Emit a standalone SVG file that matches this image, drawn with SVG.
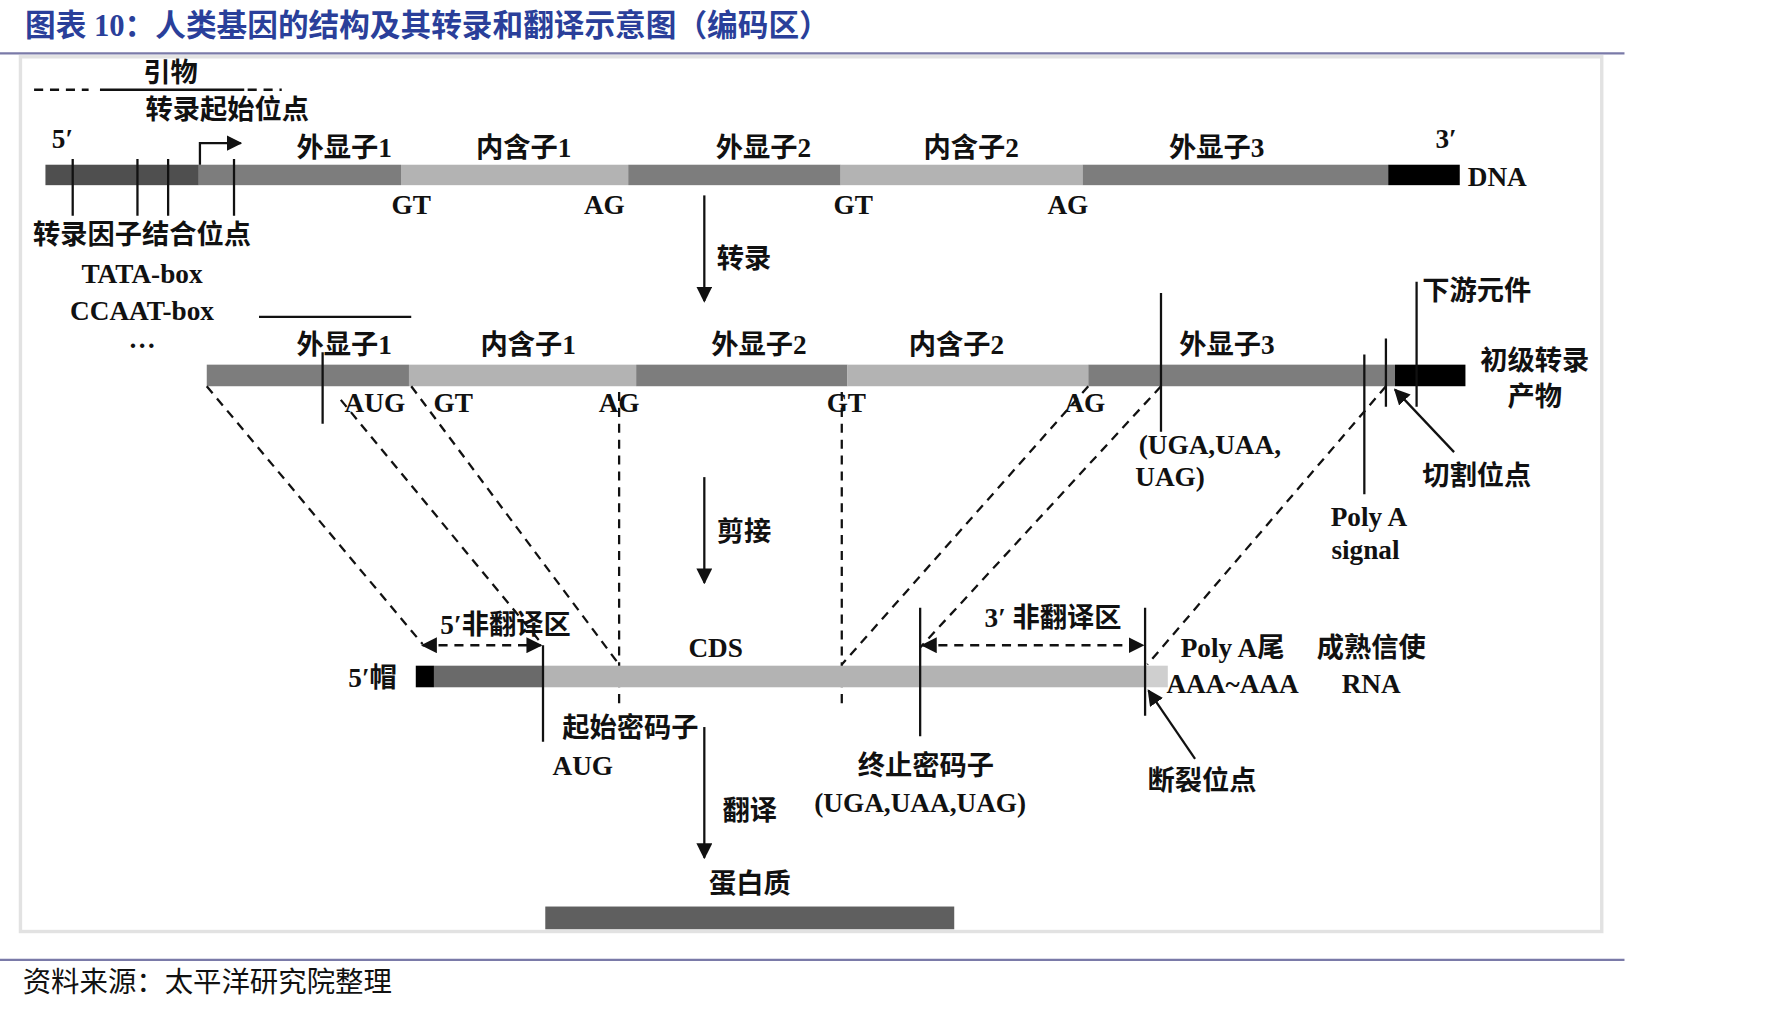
<svg xmlns="http://www.w3.org/2000/svg" width="1779" height="1013" viewBox="0 0 1779 1013">
<defs>
<style>
text{font-family:"Liberation Serif","Noto Sans CJK SC",serif;font-size:24px;fill:#111;text-anchor:middle;font-weight:bold}
.t{fill:#2a3f9a;font-size:27px;text-anchor:start}
.s{font-weight:normal;text-anchor:start;font-size:25px}
.l{stroke:#111;stroke-width:2;fill:none}
.d{stroke:#111;stroke-width:2;fill:none;stroke-dasharray:8 6}
.ex{fill:#7d7d7d}.in{fill:#b3b3b3}.dk{fill:#4f4f4f}.bk{fill:#000}
</style>
<marker id="a" viewBox="0 0 10 10" refX="9" refY="5" markerWidth="7" markerHeight="7" orient="auto-start-reverse"><path d="M0,0L10,5L0,10z" fill="#111"/></marker>
</defs>
<rect width="1779" height="1013" fill="#fff"/>
<g transform="scale(1.136)">
<text class="t" x="22" y="32">图表 10：人类基因的结构及其转录和翻译示意图（编码区）</text>
<line x1="0" y1="47" x2="1430" y2="47" stroke="#7a7aa8" stroke-width="2"/>
<rect x="18" y="50" width="1392" height="770" fill="none" stroke="#e2e2e2" stroke-width="3"/>
<line x1="0" y1="845" x2="1430" y2="845" stroke="#7a7aa8" stroke-width="2"/>
<text class="s" x="20" y="873">资料来源：太平洋研究院整理</text>

<g id="dna">
<rect class="dk" x="40" y="145" width="135" height="18"/>
<rect class="ex" x="175" y="145" width="178" height="18"/>
<rect class="in" x="353" y="145" width="200" height="18"/>
<rect class="ex" x="553" y="145" width="187" height="18"/>
<rect class="in" x="740" y="145" width="213" height="18"/>
<rect class="ex" x="953" y="145" width="269" height="18"/>
<rect class="bk" x="1222" y="145" width="63" height="18"/>
<text x="303" y="138">外显子1</text><text x="461" y="138">内含子1</text><text x="672" y="138">外显子2</text><text x="855" y="138">内含子2</text><text x="1071" y="138">外显子3</text>
<text x="55" y="130">5′</text><text x="1273" y="130">3′</text><text x="1318" y="164">DNA</text>
<text x="362" y="188">GT</text><text x="532" y="188">AG</text><text x="751" y="188">GT</text><text x="940" y="188">AG</text>
<path class="l" d="M64,140V190M121,140V190M148,140V190M206,140V190"/>
<path class="l" d="M176,145V126H212" marker-end="url(#a)"/>
<path class="d" d="M30,79H78M218,79H248"/><path class="l" d="M88,79H215"/>
<text x="150" y="72">引物</text><text x="200" y="105">转录起始位点</text>
<text x="125" y="215">转录因子结合位点</text><text x="125" y="249">TATA-box</text><text x="125" y="282">CCAAT-box</text><text x="125" y="306">…</text>
</g>

<g id="pre">
<rect class="ex" x="182" y="321" width="178" height="19"/>
<rect class="in" x="360" y="321" width="200" height="19"/>
<rect class="ex" x="560" y="321" width="186" height="19"/>
<rect class="in" x="746" y="321" width="212" height="19"/>
<rect class="ex" x="958" y="321" width="270" height="19"/>
<rect class="bk" x="1228" y="321" width="62" height="19"/>
<text x="303" y="312">外显子1</text><text x="465" y="312">内含子1</text><text x="668" y="312">外显子2</text><text x="842" y="312">内含子2</text><text x="1080" y="312">外显子3</text>
<path class="l" d="M228,279H362M284,310V373M1022,258V380M1201,312V435M1220,298V358M1247,248V358"/>
<text x="330" y="363">AUG</text><text x="399" y="363">GT</text><text x="545" y="363">AG</text><text x="745" y="363">GT</text><text x="955" y="363">AG</text>
<text x="1065" y="400">(UGA,UAA,</text><text x="1030" y="428">UAG)</text>
<text x="1205" y="463">Poly A</text><text x="1202" y="492">signal</text>
<text x="1300" y="264">下游元件</text><text x="1351" y="326">初级转录</text><text x="1351" y="357">产物</text>
<text x="1300" y="427">切割位点</text>
<path class="l" d="M1280,398L1228,343" marker-end="url(#a)"/>
</g>

<g id="connectors">
<path class="d" d="M182,340L372,567M300,352L478,568M362,340L545,585M545,345V620M741,345V620M958,340L741,585M1022,340L810,570M1220,340L1010,585"/>
<path class="l" d="M620,172V265" marker-end="url(#a)"/><text x="655" y="236">转录</text>
<path class="l" d="M620,420V513" marker-end="url(#a)"/><text x="655" y="476">剪接</text>
<path class="l" d="M620,640V755" marker-end="url(#a)"/><text x="660" y="722">翻译</text>
</g>

<g id="mrna">
<rect class="bk" x="366" y="586" width="16" height="19"/>
<rect x="382" y="586" width="96" height="19" fill="#6a6a6a"/>
<rect class="in" x="478" y="586" width="530" height="19"/>
<rect x="1008" y="586" width="20" height="19" fill="#cfcfcf"/>
<text x="328" y="605">5′帽</text><text x="445" y="558">5′非翻译区</text><text x="630" y="578">CDS</text><text x="927" y="552">3′ 非翻译区</text>
<path class="d" d="M372,568H476" marker-start="url(#a)" marker-end="url(#a)"/>
<path class="d" d="M812,568H1006" marker-start="url(#a)" marker-end="url(#a)"/>
<path class="l" d="M478,568V653M810,535V648M1008,535V630"/>
<text x="1085" y="578">Poly A尾</text><text x="1085" y="610">AAA~AAA</text><text x="1207" y="578">成熟信使</text><text x="1207" y="610">RNA</text>
<text x="555" y="649">起始密码子</text><text x="513" y="682">AUG</text>
<text x="815" y="682">终止密码子</text><text x="810" y="715">(UGA,UAA,UAG)</text>
<text x="1058" y="695">断裂位点</text>
<path class="l" d="M1052,668L1011,608" marker-end="url(#a)"/>
</g>

<g id="protein">
<text x="660" y="786">蛋白质</text>
<rect x="480" y="798" width="360" height="20" fill="#5f5f5f"/>
</g>
</g>
</svg>
